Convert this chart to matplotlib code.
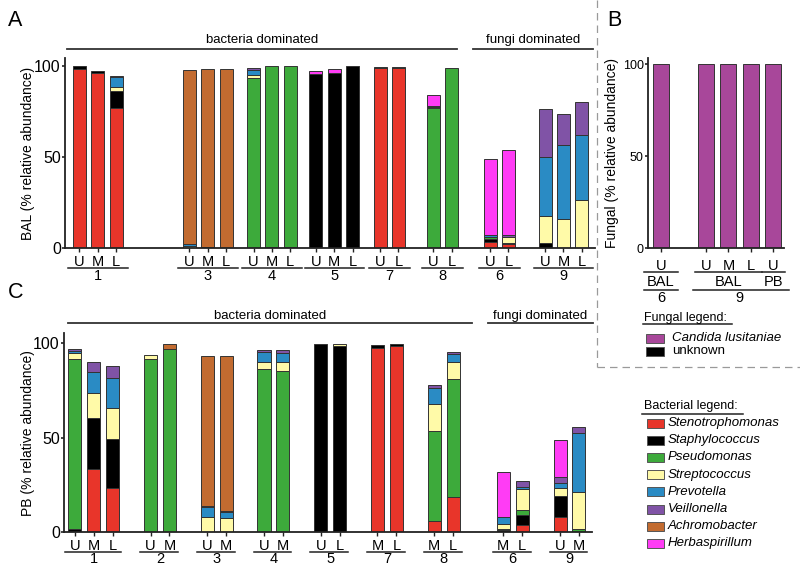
import matplotlib
matplotlib.use('Agg')
import matplotlib.pyplot as plt
from matplotlib.patches import Rectangle
import numpy as np

plt.rcParams['font.family'] = ['Liberation Sans', 'DejaVu Sans']

# ---------------- data ----------------
taxa = ['Stenotrophomonas', 'Staphylococcus', 'Pseudomonas', 'Streptococcus',
        'Prevotella', 'Veillonella', 'Achromobacter', 'Herbaspirillum']
taxa_colors = ['#E8352A', '#000000', '#3DAA3B', '#FFFAA8',
               '#2A8BC4', '#8053A6', '#C26B30', '#FF3CF5']

# Panel A: BAL
bal_samples = ['U', 'M', 'L', 'U', 'M', 'L', 'U', 'M', 'L', 'U', 'M', 'L',
               'U', 'L', 'U', 'L', 'U', 'L', 'U', 'M', 'L']
bal_groups = ['1', '1', '1', '3', '3', '3', '4', '4', '4', '5', '5', '5',
              '7', '7', '8', '8', '6', '6', '9', '9', '9']
bal_steno = [98.2, 96.1, 76.6, 0, 0, 0, 0, 0, 0, 0, 0, 0,
             98.9, 98.8, 0, 0, 3.3, 2.2, 0, 0, 0]
bal_staph = [1.4, 1.0, 9.7, 0, 0.7, 0, 0, 0.5, 0.7, 95.4, 96.1, 99.6,
             0.5, 0.6, 0, 0, 1.6, 0.9, 3.1, 0, 0]
bal_pseudo = [0, 0, 0, 0.3, 0, 0, 93.5, 99.1, 98.9, 0, 0, 0,
              0, 0, 76.6, 98.9, 1.1, 0, 0, 0, 0]
bal_strep = [0, 0, 1.8, 0.8, 0, 0, 1.5, 0, 0, 0, 0, 0,
             0, 0, 0.8, 0, 0, 2.9, 14.8, 16.1, 26.3]
bal_prevo = [0, 0, 5.5, 1.5, 0, 0, 2.5, 0, 0, 0, 0, 0,
             0, 0, 0, 0, 1.5, 0, 32.3, 40.5, 35.6]
bal_veill = [0, 0, 0.9, 0, 0, 0, 1.0, 0, 0, 0, 0, 0,
             0, 0, 0.5, 0, 0, 1.5, 26.1, 16.7, 18.0]
bal_achro = [0, 0, 0, 95.0, 97.5, 98.4, 0, 0, 0, 0, 0, 0,
             0, 0, 0, 0, 0, 0, 0, 0, 0]
bal_herba = [0, 0, 0, 0, 0, 0, 0, 0, 0, 1.8, 2.0, 0,
             0, 0, 5.9, 0, 41.2, 46.1, 0, 0, 0]

# Panel C: PB
pb_samples = ['U', 'M', 'L', 'U', 'M', 'U', 'M', 'U', 'M', 'U', 'L',
              'M', 'L', 'M', 'L', 'M', 'L', 'U', 'M']
pb_groups = ['1', '1', '1', '2', '2', '3', '3', '4', '4', '5', '5',
             '7', '7', '8', '8', '6', '6', '9', '9']
pb_steno = [0, 33.3, 23.6, 0, 0, 0, 0, 0, 0, 0, 0,
            97.7, 98.8, 5.8, 18.5, 0, 3.9, 7.9, 0]
pb_staph = [1.5, 27.4, 25.6, 0, 0.3, 0, 0, 0, 0, 99.6, 98.8,
            1.2, 0.8, 0, 0, 1.0, 5.3, 11.3, 0]
pb_pseudo = [90.0, 0, 0, 91.7, 96.8, 0, 0, 86.4, 85.4, 0, 0,
             0, 0, 47.8, 62.5, 1.0, 2.6, 0, 1.8]
pb_strep = [3.2, 12.8, 16.4, 2.1, 0, 7.9, 7.6, 3.5, 4.5, 0, 0.8,
            0, 0, 14.5, 9.3, 2.2, 11.0, 4.1, 19.4]
pb_prevo = [1.4, 11.5, 15.9, 0, 0, 5.5, 3.0, 5.3, 5.0, 0, 0,
            0, 0, 8.1, 4.1, 3.7, 1.0, 2.6, 31.2]
pb_veill = [1.1, 4.9, 6.3, 0, 0, 0.5, 0.9, 1.1, 1.4, 0, 0,
            0, 0, 1.6, 1.0, 0, 3.2, 3.6, 3.5]
pb_achro = [0, 0, 0, 0, 2.5, 79.2, 82.0, 0, 0, 0, 0,
            0, 0, 0, 0, 0, 0, 0, 0]
pb_herba = [0, 0, 0, 0, 0, 0, 0, 0, 0, 0, 0,
            0, 0, 0, 0, 23.8, 0, 19.4, 0]

# Panel B: fungal
fungal_samples = ['U', 'U', 'M', 'L', 'U']
fungal_sites = ['BAL', 'BAL', 'BAL', 'BAL', 'PB']
fungal_patients = ['6', '9', '9', '9', '9']
fungal_candida = [100, 100, 100, 100, 100]
fungal_unknown = [0, 0, 0, 0, 0]
fungal_taxa = ['Candida lusitaniae', 'unknown']
fungal_colors = ['#A8479A', '#000000']

# ---------------- layout ----------------
W, H = 800, 567
bal_pos = [0, 1, 2, 6, 7, 8, 9.5, 10.5, 11.5, 12.9, 13.9, 14.9,
           16.4, 17.4, 19.3, 20.3, 22.4, 23.4, 25.4, 26.4, 27.4]
pb_pos = [0, 1, 2, 4, 5, 7, 8, 10, 11, 13, 14, 16, 17, 19, 20,
          22.66, 23.66, 25.66, 26.66]
fun_pos = [0, 2, 3, 4, 5]

EDGE = '#333333'
SPINE = '#222222'

fig = plt.figure(figsize=(W / 100, H / 100), dpi=100)


def px_axes(left, top, right, bottom):
    return fig.add_axes([left / W, 1 - bottom / H, (right - left) / W, (bottom - top) / H])


def style_axes(ax, ylabel, label_x, ytick_size=11.5):
    for s in ['top', 'right']:
        ax.spines[s].set_visible(False)
    for s in ['left', 'bottom']:
        ax.spines[s].set_linewidth(1.3)
        ax.spines[s].set_color(SPINE)
    ax.set_yticks([0, 50, 100])
    ax.tick_params(axis='y', length=2.5, width=1.2, pad=0.5, labelsize=ytick_size, color=SPINE)
    ax.tick_params(axis='x', length=3, width=1.0, pad=1.5, labelsize=10.5, color=SPINE)
    ax.set_ylabel(ylabel, fontsize=10)
    ax.yaxis.set_label_coords(label_x, 0.5)


def draw_stack(ax, pos, series, colors, width):
    pos = np.asarray(pos, float)
    bottom = np.zeros(len(pos))
    for vals, col in zip(series, colors):
        vals = np.asarray(vals, float)
        m = vals > 0
        ax.bar(pos[m], vals[m], width, bottom=bottom[m], color=col,
               edgecolor=EDGE, linewidth=0.7, zorder=2)
        bottom += vals


def contiguous(keys):
    out = []
    start = 0
    for i in range(1, len(keys) + 1):
        if i == len(keys) or keys[i] != keys[start]:
            out.append((keys[start], start, i - 1))
            start = i
    return out


def group_labels(ax, pos, groups, line_y, text_y, lpad, rpad):
    tr = ax.get_xaxis_transform()
    for g, a, b in contiguous(groups):
        x0, x1 = pos[a] - lpad, pos[b] + rpad
        ax.plot([x0, x1], [line_y, line_y], color=SPINE, lw=1.1, transform=tr, clip_on=False)
        ax.text((pos[a] + pos[b]) / 2, text_y, g, transform=tr, ha='center', va='center',
                fontsize=10.5)


def header(ax, x0, x1, line_y, text_y, label):
    tr = ax.get_xaxis_transform()
    ax.plot([x0, x1], [line_y, line_y], color='#333333', lw=1.3, transform=tr, clip_on=False)
    ax.text((x0 + x1) / 2, text_y, label, transform=tr, ha='center', va='center', fontsize=9.5)


# ---- Panel A ----
axA = px_axes(65, 58, 595, 248.3)
draw_stack(axA, bal_pos, [bal_steno, bal_staph, bal_pseudo, bal_strep, bal_prevo,
                          bal_veill, bal_achro, bal_herba], taxa_colors, 0.71)
axA.set_xlim(-0.79, 28.12)
axA.set_ylim(0, 104.2)
axA.set_xticks(bal_pos, bal_samples)
style_axes(axA, 'BAL (% relative abundance)', -0.057)
group_labels(axA, bal_pos, bal_groups, -0.1035, -0.148, 0.62, 0.62)
header(axA, -0.68, 20.6, 1.047, 1.095, 'bacteria dominated')
header(axA, 21.47, 28.02, 1.047, 1.095, 'fungi dominated')

# ---- Panel C ----
axC = px_axes(64, 333.3, 592, 532.3)
draw_stack(axC, pb_pos, [pb_steno, pb_staph, pb_pseudo, pb_strep, pb_prevo,
                         pb_veill, pb_achro, pb_herba], taxa_colors, 0.69)
axC.set_xlim(-0.58, 27.35)
axC.set_ylim(0, 105.3)
axC.set_xticks(pb_pos, pb_samples)
style_axes(axC, 'PB (% relative abundance)', -0.055)
group_labels(axC, pb_pos, pb_groups, -0.099, -0.136, 0.55, 0.45)
header(axC, -0.37, 21.0, 1.052, 1.088, 'bacteria dominated')
header(axC, 21.85, 27.4, 1.052, 1.088, 'fungi dominated')

# ---- Panel B ----
axB = px_axes(648, 58, 784, 248.3)
draw_stack(axB, fun_pos, [fungal_candida, fungal_unknown], fungal_colors, 0.71)
axB.set_xlim(-0.58, 5.47)
axB.set_ylim(0, 103.4)
axB.set_xticks(fun_pos, fungal_samples)
style_axes(axB, 'Fungal (% relative abundance)', -0.212, ytick_size=9)
axB.tick_params(axis='x', pad=4.5)
trB = axB.get_xaxis_transform()
site_keys = [p + s for p, s in zip(fungal_patients, fungal_sites)]
for key, a, b in contiguous(site_keys):
    pad = 0.75 if a == b and a == 0 else 0.5
    axB.plot([fun_pos[a] - pad, fun_pos[b] + pad], [-0.1245, -0.1245], color=SPINE, lw=1.1,
             transform=trB, clip_on=False)
    axB.text((fun_pos[a] + fun_pos[b]) / 2, -0.177, fungal_sites[a], transform=trB,
             ha='center', va='center', fontsize=10.5)
for key, a, b in contiguous(fungal_patients):
    lp = 0.75 if a == b else 0.58
    rp = 0.75 if a == b else 0.69
    axB.plot([fun_pos[a] - lp, fun_pos[b] + rp], [-0.219, -0.219], color=SPINE, lw=1.1,
             transform=trB, clip_on=False)
    axB.text((fun_pos[a] + fun_pos[b]) / 2, -0.261, key, transform=trB,
             ha='center', va='center', fontsize=10.5)

# ---- overlay: panel letters, legends, dashed frame ----
ov = fig.add_axes([0, 0, 1, 1], zorder=10)
ov.set_xlim(0, W)
ov.set_ylim(H, 0)
ov.axis('off')
ov.patch.set_alpha(0)

for lab, x, y in [('A', 8, 20), ('B', 607, 20), ('C', 8, 293)]:
    ov.text(x, y, lab, fontsize=15.5, ha='left', va='center')

ov.plot([597, 597], [0, 367], color='#9a9a9a', lw=0.9, dashes=(6, 4))
ov.plot([597, 800], [367, 367], color='#9a9a9a', lw=0.9, dashes=(6, 4))

# fungal legend
ov.text(644, 318.5, 'Fungal legend:', fontsize=9, ha='left', va='center')
ov.plot([643, 732], [324, 324], color=SPINE, lw=1.1)
for i, (name, col) in enumerate(zip(fungal_taxa, fungal_colors)):
    y = 338 + i * 13.5
    ov.add_patch(Rectangle((646, y - 4.5), 18, 9, facecolor=col, edgecolor='#555555', lw=0.7))
    ov.text(672, y, name, fontsize=9.5, ha='left', va='center',
            style='italic' if i == 0 else 'normal')

# bacterial legend
ov.text(644, 406, 'Bacterial legend:', fontsize=9, ha='left', va='center')
ov.plot([642, 743], [413.5, 413.5], color=SPINE, lw=1.1)
for i, (name, col) in enumerate(zip(taxa, taxa_colors)):
    y = 423 + i * 17.2
    ov.add_patch(Rectangle((647, y - 4.5), 17, 9, facecolor=col, edgecolor='#555555', lw=0.7))
    ov.text(668, y, name, fontsize=9.5, ha='left', va='center', style='italic')

fig.savefig('out.png', dpi=100)
